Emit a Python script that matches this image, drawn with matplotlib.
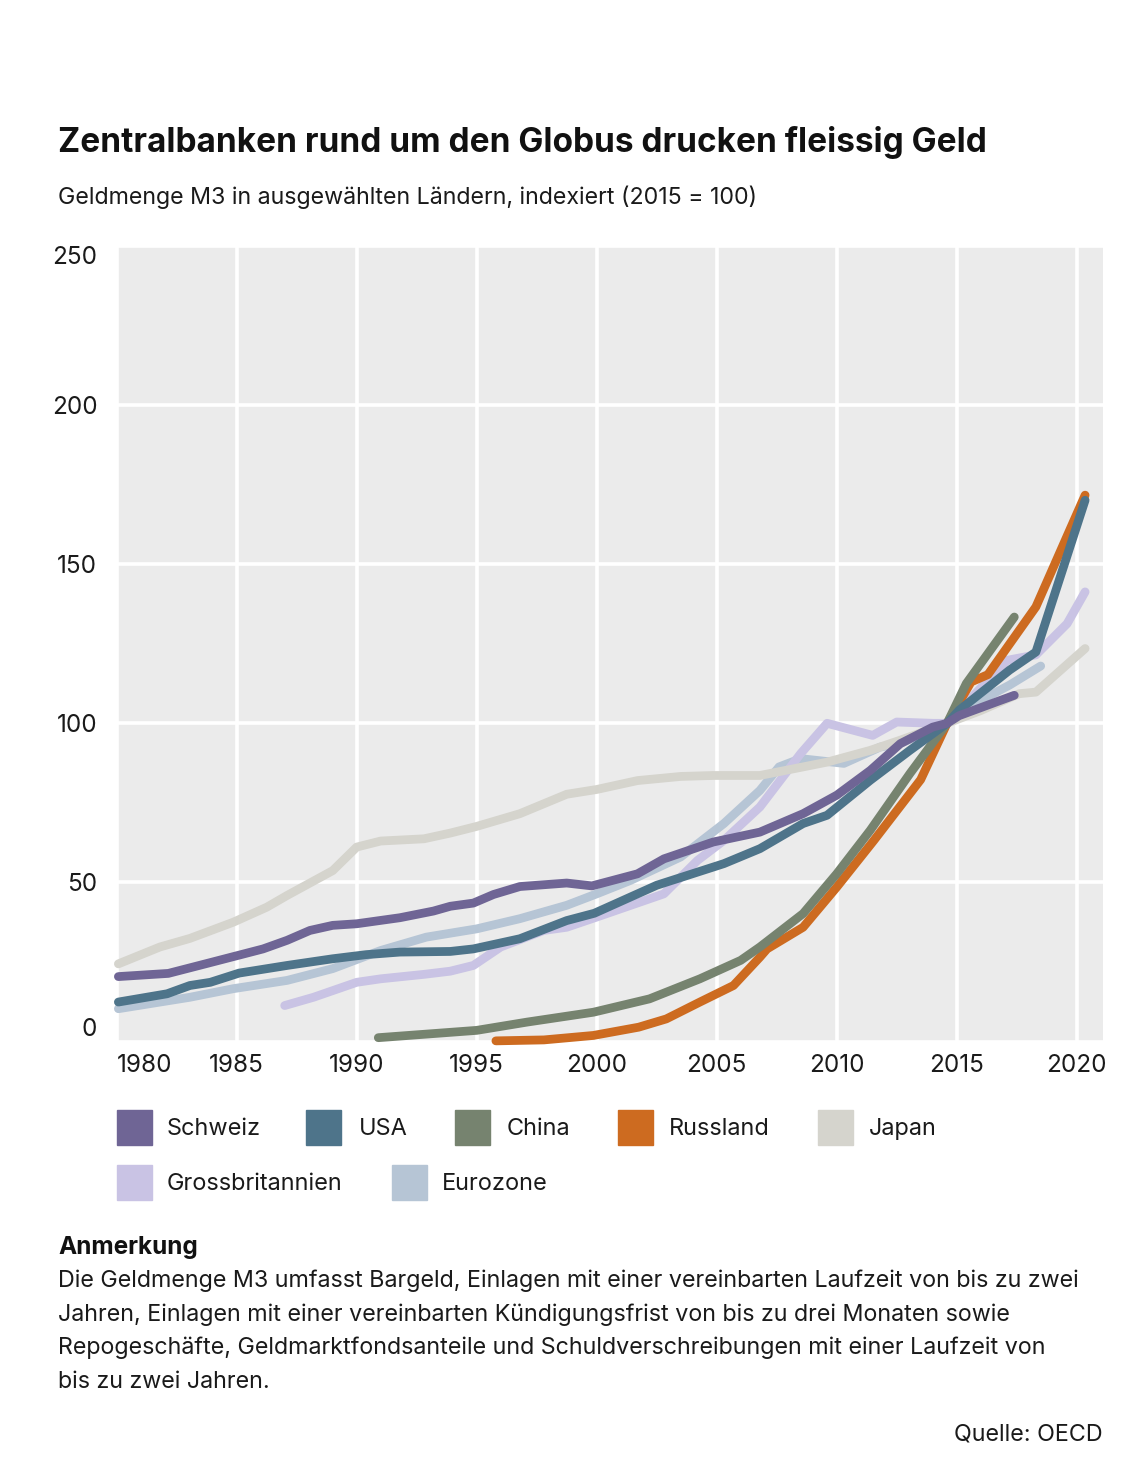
import matplotlib
matplotlib.use("Agg")
import matplotlib.pyplot as plt
from matplotlib.patches import Rectangle

W, H = 1129, 1458
DPI = 100
FONT = ["Inter", "DejaVu Sans"]
plt.rcParams["font.family"] = FONT

# ---------------- data ----------------
schweiz_x = [1980.07, 1982.15, 1983.9, 1986.1, 1987.1, 1988.05, 1989.0, 1990.0, 1991.8, 1993.2, 1993.9,
             1994.86, 1995.7, 1996.8, 1998.75, 1999.8, 2001.7, 2002.8, 2004.86, 2006.8, 2008.6, 2010.0,
             2011.4, 2012.65, 2014.0, 2014.6, 2015.1, 2017.4]
schweiz_y = [20.4, 21.4, 24.8, 29.1, 31.8, 34.9, 36.5, 37.0, 38.9, 41.0, 42.5,
             43.5, 46.2, 48.7, 49.8, 48.9, 52.7, 57.4, 62.7, 65.8, 71.6, 77.4,
             85.2, 93.6, 98.8, 100.0, 102.4, 108.8]

usa_x = [1980.07, 1982.1, 1983.05, 1983.9, 1985.1, 1987.1, 1989.0, 1990.4, 1991.8, 1993.9, 1994.86,
         1996.8, 1998.75, 1999.9, 2002.5, 2005.3, 2006.8, 2008.6, 2009.6, 2011.4, 2013.05, 2014.6,
         2015.1, 2017.2, 2018.3, 2020.35]
usa_y = [12.4, 15.0, 17.6, 18.6, 21.5, 23.9, 26.0, 27.3, 28.1, 28.3, 29.1,
         32.3, 38.0, 40.3, 49.1, 55.9, 60.6, 68.5, 71.1, 82.1, 91.5, 100.0,
         104.1, 116.7, 122.4, 170.1]

china_x = [1990.9, 1995.0, 1997.1, 1999.86, 2002.2, 2004.3, 2006.0, 2006.8, 2008.6, 2010.0, 2011.4,
           2013.05, 2014.6, 2015.4, 2017.4]
china_y = [1.2, 3.5, 6.1, 9.2, 13.4, 19.7, 25.5, 29.7, 40.2, 52.7, 66.4,
           84.2, 100.0, 112.5, 133.4]

russland_x = [1995.8, 1997.8, 1999.86, 2001.75, 2002.9, 2004.3, 2005.7, 2006.8, 2007.1, 2008.6, 2010.0,
              2011.55, 2013.5, 2014.6, 2015.6, 2016.3, 2018.3, 2020.35]
russland_y = [0.2, 0.5, 1.9, 4.5, 7.1, 12.4, 17.6, 26.5, 29.1, 35.9, 48.5,
              63.2, 82.3, 100.0, 113.0, 115.3, 136.6, 171.7]

japan_x = [1980.07, 1981.8, 1983.05, 1984.86, 1986.25, 1987.1, 1989.0, 1990.0, 1991.0, 1992.8, 1993.9,
           1995.0, 1996.8, 1998.75, 2000.0, 2001.7, 2003.5, 2004.86, 2006.8, 2009.6, 2011.4, 2012.65,
           2014.6, 2016.0, 2017.6, 2018.3, 2020.35]
japan_y = [24.4, 29.7, 32.4, 37.5, 42.2, 45.9, 53.7, 61.1, 63.0, 63.7, 65.5,
           67.6, 71.6, 77.7, 79.2, 82.0, 83.3, 83.6, 83.6, 87.8, 91.5, 94.7,
           100.0, 104.0, 109.3, 109.8, 123.5]

gb_x = [1987.0, 1988.2, 1990.0, 1991.0, 1992.8, 1993.9, 1994.86, 1996.0, 1997.8, 1998.75, 2000.0,
        2002.8, 2004.2, 2005.3, 2006.8, 2008.5, 2009.6, 2011.5, 2012.5, 2014.0, 2014.6, 2017.1,
        2018.3, 2019.6, 2020.35]
gb_y = [11.3, 13.9, 18.6, 19.7, 21.1, 22.1, 23.9, 29.7, 34.9, 35.9, 39.1,
        46.4, 56.9, 63.2, 73.7, 90.5, 100.0, 96.2, 100.4, 100.0, 100.0, 119.8,
        121.5, 131.3, 141.3]

euro_x = [1980.07, 1983.05, 1984.86, 1987.1, 1989.0, 1991.0, 1992.9, 1995.0, 1996.8, 1998.75, 2000.0,
          2001.4, 2003.5, 2005.3, 2006.8, 2007.6, 2008.5, 2010.3, 2011.8, 2012.65, 2014.6, 2016.2,
          2017.2, 2018.5]
euro_y = [10.3, 13.9, 16.6, 19.2, 22.9, 28.6, 32.8, 35.4, 38.6, 42.8, 46.4,
          50.6, 58.0, 68.5, 78.9, 86.3, 88.9, 87.4, 92.5, 93.7, 100.0, 108.0,
          112.0, 118.0]

series = [
    ("Eurozone", euro_x, euro_y, "#b6c5d5"),
    ("Grossbritannien", gb_x, gb_y, "#c9c3e4"),
    ("Japan", japan_x, japan_y, "#d5d4cd"),
    ("Russland", russland_x, russland_y, "#cd6b20"),
    ("China", china_x, china_y, "#76836f"),
    ("USA", usa_x, usa_y, "#4e748a"),
    ("Schweiz", schweiz_x, schweiz_y, "#6f6595"),
]
colors = {n: c for n, _, _, c in series}

legend_rows = [["Schweiz", "USA", "China", "Russland", "Japan"],
               ["Grossbritannien", "Eurozone"]]

y_ticks = [0, 50, 100, 150, 200, 250]
x_ticks = [1980, 1985, 1990, 1995, 2000, 2005, 2010, 2015, 2020]

title = "Zentralbanken rund um den Globus drucken fleissig Geld"
subtitle = "Geldmenge M3 in ausgewählten Ländern, indexiert (2015 = 100)"
note_head = "Anmerkung"
note_lines = [
    "Die Geldmenge M3 umfasst Bargeld, Einlagen mit einer vereinbarten Laufzeit von bis zu zwei",
    "Jahren, Einlagen mit einer vereinbarten Kündigungsfrist von bis zu drei Monaten sowie",
    "Repogeschäfte, Geldmarktfondsanteile und Schuldverschreibungen mit einer Laufzeit von",
    "bis zu zwei Jahren.",
]
source = "Quelle: OECD"

# ---------------- figure ----------------
fig = plt.figure(figsize=(W / DPI, H / DPI), dpi=DPI, facecolor="white")
renderer = fig.canvas.get_renderer()

def fx(px):
    return px / W

def fy(py):
    return 1 - py / H

def fit_text(x, y, s, width_px, weight="normal", ha="left", va="baseline", color="#1a1a1a", size0=16):
    t = fig.text(fx(x), fy(y), s, fontsize=size0, weight=weight, ha=ha, va=va, color=color)
    w = t.get_window_extent(renderer).width
    t.set_fontsize(size0 * width_px / w)
    return t

# axes
ax_l, ax_r, ax_t, ax_b = 116.7, 1103, 246, 1041.5
ax = fig.add_axes([fx(ax_l), fy(ax_b), (ax_r - ax_l) / W, (ax_b - ax_t) / H])
ax.set_facecolor("#ebebeb")
for sp in ax.spines.values():
    sp.set_visible(False)
ax.set_xlim(1980, 1980 + (ax_r - ax_l) / 24.0)
ax.set_ylim(0, 250)
ax.set_xticks(x_ticks)
ax.set_yticks(y_ticks)
ax.grid(True, color="white", linewidth=2.6)
ax.set_axisbelow(True)
ax.tick_params(length=0, pad=9, labelsize=17.5, labelcolor="#1a1a1a")
ax.tick_params(axis="y", pad=14)

for name, xs, ys, c in series:
    ax.plot(xs, ys, color=c, linewidth=6.3, solid_capstyle="round",
            solid_joinstyle="round", clip_on=False, zorder=3)

ax.set_yticklabels([str(v) for v in y_ticks])
for lab, v in zip(ax.get_yticklabels(), y_ticks):
    if v == 250:
        lab.set_va("top")
    elif v == 0:
        lab.set_va("bottom")
ax.set_xticklabels([str(v) for v in x_ticks])
for lab, v in zip(ax.get_xticklabels(), x_ticks):
    if v == 1980:
        lab.set_ha("left")

# texts
fit_text(58, 152, title, 926, weight="bold", color="#111111")
fit_text(58, 204, subtitle, 704)

# legend
leg_pos = {"Schweiz": (117, 167), "USA": (306, 359), "China": (455, 507),
           "Russland": (618, 669), "Japan": (818, 869),
           "Grossbritannien": (117, 167), "Eurozone": (392, 442)}
row_y = [(1110, 1135), (1165, 1190)]
leg_size = None
for ri, row in enumerate(legend_rows):
    top, base = row_y[ri]
    for name in row:
        sx, tx = leg_pos[name]
        fig.patches.append(Rectangle((fx(sx), fy(top + 35)), 35 / W, 35 / H,
                                     transform=fig.transFigure, color=colors[name]))
        if name == "Grossbritannien":
            t = fit_text(tx, base, name, 177)
            leg_size = t.get_fontsize()
for ri, row in enumerate(legend_rows):
    top, base = row_y[ri]
    for name in row:
        if name == "Grossbritannien":
            continue
        sx, tx = leg_pos[name]
        fig.text(fx(tx), fy(base), name, fontsize=leg_size, ha="left", va="baseline", color="#1a1a1a")

fit_text(58, 1254, note_head, 140, weight="bold", color="#111111")
t = fit_text(58, 1287, note_lines[0], 1027)
ns = t.get_fontsize()
for i, line in enumerate(note_lines[1:]):
    fig.text(fx(58), fy(1320.5 + i * 33.5), line, fontsize=ns, ha="left", va="baseline", color="#1a1a1a")
fig.text(fx(1103), fy(1441), source, fontsize=ns, ha="right", va="baseline", color="#1a1a1a")

fig.savefig("out.png", dpi=DPI, facecolor="white")
